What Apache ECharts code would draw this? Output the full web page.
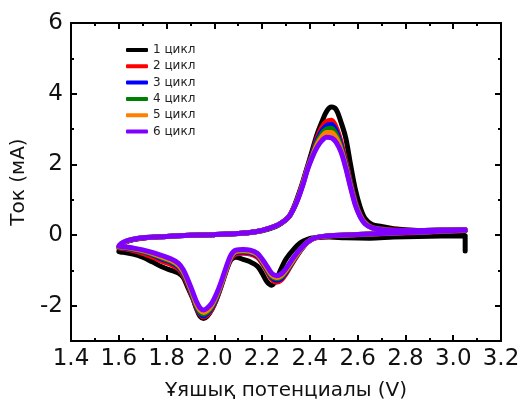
<!DOCTYPE html>
<html>
<head>
<meta charset="utf-8">
<style>
  html, body { margin: 0; padding: 0; background: #fff; }
  #chart { width: 526px; height: 406px; }
</style>
<script src="https://cdn.jsdelivr.net/npm/echarts@6/dist/echarts.min.js"></script>
</head>
<body>
<div id="chart"></div>
<script>
// Sweep potentials (V): cathodic scan 3.05 -> 1.60, then anodic scan back to 3.05
const cathodicV = [3.05, 2.95, 2.85, 2.75, 2.65, 2.55, 2.48, 2.42, 2.39, 2.36, 2.33, 2.30, 2.28, 2.26, 2.24, 2.22, 2.20, 2.18, 2.15, 2.12, 2.09, 2.07, 2.05, 2.03, 2.01, 1.99, 1.97, 1.955, 1.94, 1.925, 1.91, 1.89, 1.87, 1.85, 1.82, 1.78, 1.74, 1.70, 1.66, 1.62, 1.60];
const anodicV = [1.61, 1.63, 1.66, 1.70, 1.75, 1.80, 1.90, 2.00, 2.10, 2.15, 2.20, 2.25, 2.28, 2.31, 2.33, 2.35, 2.37, 2.39, 2.41, 2.43, 2.45, 2.47, 2.49, 2.51, 2.53, 2.55, 2.57, 2.59, 2.61, 2.63, 2.66, 2.70, 2.75, 2.85, 2.95, 3.05];

// Cycle 1 starts with a current step at the upper potential limit
const cycle1StartV = 3.05;
const cycle1StartI = -0.45;

// Current (mA), cathodic branch
const cycle1Cath = [-0.02, -0.03, -0.04, -0.06, -0.09, -0.08, -0.06, -0.08, -0.12, -0.22, -0.42, -0.68, -0.95, -1.25, -1.42, -1.32, -1.08, -0.88, -0.76, -0.69, -0.63, -0.7, -0.98, -1.4, -1.8, -2.1, -2.3, -2.36, -2.3, -2.08, -1.8, -1.5, -1.2, -1.08, -1.0, -0.9, -0.76, -0.63, -0.54, -0.49, -0.47];
const cycle2Cath = [0.13, 0.1, 0.07, 0.05, 0.02, -0.01, -0.03, -0.09, -0.21, -0.45, -0.76, -1.1, -1.28, -1.34, -1.25, -1.02, -0.8, -0.63, -0.54, -0.52, -0.54, -0.67, -1.02, -1.43, -1.8, -2.1, -2.27, -2.32, -2.25, -2.06, -1.78, -1.43, -1.14, -0.96, -0.84, -0.74, -0.62, -0.52, -0.44, -0.38, -0.36];
const cycle3Cath = [0.14, 0.11, 0.08, 0.06, 0.03, 0.0, -0.02, -0.08, -0.2, -0.44, -0.74, -1.06, -1.23, -1.28, -1.2, -0.98, -0.76, -0.59, -0.5, -0.48, -0.5, -0.64, -0.99, -1.4, -1.77, -2.06, -2.23, -2.29, -2.22, -2.03, -1.75, -1.39, -1.09, -0.91, -0.78, -0.68, -0.56, -0.47, -0.41, -0.36, -0.35];
const cycle4Cath = [0.14, 0.11, 0.08, 0.06, 0.03, 0.0, -0.02, -0.08, -0.2, -0.43, -0.72, -1.03, -1.19, -1.24, -1.17, -0.96, -0.74, -0.57, -0.48, -0.46, -0.48, -0.62, -0.97, -1.38, -1.74, -2.02, -2.19, -2.24, -2.18, -2.0, -1.72, -1.36, -1.06, -0.88, -0.75, -0.65, -0.54, -0.46, -0.4, -0.35, -0.34];
const cycle5Cath = [0.14, 0.11, 0.08, 0.06, 0.03, 0.0, -0.02, -0.08, -0.2, -0.42, -0.7, -1.0, -1.15, -1.2, -1.13, -0.93, -0.72, -0.55, -0.46, -0.44, -0.46, -0.6, -0.95, -1.35, -1.7, -1.98, -2.14, -2.19, -2.13, -1.95, -1.68, -1.33, -1.03, -0.85, -0.72, -0.62, -0.52, -0.44, -0.38, -0.34, -0.33];
const cycle6Cath = [0.14, 0.11, 0.08, 0.06, 0.03, 0.0, -0.02, -0.08, -0.2, -0.4, -0.65, -0.95, -1.1, -1.15, -1.08, -0.88, -0.68, -0.52, -0.43, -0.41, -0.43, -0.56, -0.9, -1.3, -1.65, -1.92, -2.07, -2.12, -2.06, -1.88, -1.62, -1.28, -0.98, -0.8, -0.68, -0.58, -0.49, -0.42, -0.37, -0.33, -0.32];

// Current (mA), anodic branch
const cycle1Anod = [-0.32, -0.2, -0.13, -0.09, -0.06, -0.04, -0.01, 0.01, 0.04, 0.07, 0.12, 0.22, 0.33, 0.5, 0.75, 1.1, 1.5, 1.95, 2.4, 2.85, 3.2, 3.5, 3.62, 3.55, 3.2, 2.75, 2.0, 1.3, 0.8, 0.48, 0.3, 0.24, 0.18, 0.13, 0.12, 0.12];
const cycle2Anod = [-0.27, -0.19, -0.13, -0.09, -0.06, -0.04, -0.01, 0.01, 0.04, 0.07, 0.13, 0.24, 0.34, 0.5, 0.73, 1.06, 1.46, 1.92, 2.3, 2.75, 3.05, 3.22, 3.25, 3.05, 2.65, 2.1, 1.5, 0.95, 0.58, 0.36, 0.22, 0.17, 0.14, 0.13, 0.13, 0.14];
const cycle3Anod = [-0.26, -0.19, -0.13, -0.08, -0.06, -0.04, -0.01, 0.01, 0.04, 0.07, 0.13, 0.24, 0.34, 0.5, 0.72, 1.05, 1.44, 1.9, 2.28, 2.68, 2.95, 3.1, 3.13, 2.95, 2.55, 2.02, 1.45, 0.92, 0.56, 0.35, 0.21, 0.16, 0.13, 0.13, 0.14, 0.15];
const cycle4Anod = [-0.26, -0.18, -0.12, -0.08, -0.06, -0.04, -0.01, 0.01, 0.04, 0.07, 0.13, 0.24, 0.34, 0.5, 0.72, 1.04, 1.43, 1.88, 2.25, 2.62, 2.87, 3.0, 3.02, 2.85, 2.48, 1.98, 1.42, 0.9, 0.55, 0.34, 0.21, 0.16, 0.13, 0.13, 0.14, 0.15];
const cycle5Anod = [-0.25, -0.18, -0.12, -0.08, -0.06, -0.04, -0.01, 0.01, 0.04, 0.07, 0.13, 0.24, 0.34, 0.5, 0.72, 1.03, 1.42, 1.87, 2.22, 2.56, 2.78, 2.9, 2.9, 2.75, 2.42, 1.94, 1.38, 0.88, 0.54, 0.33, 0.2, 0.15, 0.13, 0.13, 0.14, 0.15];
const cycle6Anod = [-0.24, -0.17, -0.12, -0.08, -0.06, -0.04, -0.01, 0.01, 0.04, 0.07, 0.13, 0.24, 0.34, 0.5, 0.72, 1.02, 1.4, 1.85, 2.2, 2.48, 2.67, 2.77, 2.75, 2.62, 2.35, 1.9, 1.35, 0.85, 0.52, 0.32, 0.2, 0.15, 0.13, 0.13, 0.14, 0.15];

const cycleNames = ['1 цикл', '2 цикл', '3 цикл', '4 цикл', '5 цикл', '6 цикл'];
const cycleColors = ['#000000', '#ff0000', '#0000ff', '#008000', '#ff8000', '#8000ff'];

const yMajorTicks = [-2, 0, 2, 4, 6];
const yMinorTicks = [-3, -1, 1, 3, 5];

function loop(cath, anod) {
  return cathodicV.map((v, k) => [v, cath[k]])
    .concat(anodicV.map((v, k) => [v, anod[k]]));
}

const cycles = [
  [[cycle1StartV, cycle1StartI]].concat(loop(cycle1Cath, cycle1Anod)),
  loop(cycle2Cath, cycle2Anod),
  loop(cycle3Cath, cycle3Anod),
  loop(cycle4Cath, cycle4Anod),
  loop(cycle5Cath, cycle5Anod),
  loop(cycle6Cath, cycle6Anod)
];

const FONT = 'DejaVu Sans';
const frame = { show: true, onZero: false, lineStyle: { color: '#000', width: 2 } };

function xAxisDef(pos, withLabels) {
  return {
    type: 'value', position: pos, min: 1.4, max: 3.2, interval: 0.2,
    name: withLabels ? 'Ұяшық потенциалы (V)' : '',
    nameLocation: 'middle', nameGap: 40,
    nameTextStyle: { fontFamily: FONT, fontSize: 20, color: '#111' },
    axisLine: frame,
    axisTick: { show: true, inside: true, length: 6, lineStyle: { color: '#000', width: 2 } },
    minorTick: { show: true, splitNumber: 2, length: 3, lineStyle: { color: '#000', width: 2 } },
    axisLabel: {
      show: withLabels, margin: 7, fontFamily: FONT, fontSize: 23, color: '#111',
      formatter: v => v.toFixed(1)
    },
    splitLine: { show: false }, minorSplitLine: { show: false }
  };
}

function yAxisDef(pos, withLabels, ticks, len) {
  return {
    type: 'value', position: pos, min: -3, max: 6, interval: 1,
    name: withLabels ? 'Ток (мА)' : '',
    nameLocation: 'middle', nameGap: 42,
    nameTextStyle: { fontFamily: FONT, fontSize: 20, color: '#111' },
    axisLine: frame,
    axisTick: { show: true, inside: true, length: len, customValues: ticks, lineStyle: { color: '#000', width: 2 } },
    axisLabel: {
      show: withLabels, margin: 8, fontFamily: FONT, fontSize: 23, color: '#111',
      customValues: yMajorTicks
    },
    splitLine: { show: false }
  };
}

const chart = echarts.init(document.getElementById('chart'), null, { renderer: 'canvas' });
chart.setOption({
  animation: false,
  backgroundColor: '#fff',
  grid: { left: 71, right: 25, top: 23, bottom: 65, containLabel: false },
  xAxis: [xAxisDef('bottom', true), xAxisDef('top', false)],
  yAxis: [
    yAxisDef('left', true, yMajorTicks, 6),
    yAxisDef('left', false, yMinorTicks, 3),
    yAxisDef('right', false, yMajorTicks, 6),
    yAxisDef('right', false, yMinorTicks, 3)
  ],
  legend: {
    orient: 'vertical', left: 126, top: 44, padding: 0,
    itemWidth: 22, itemHeight: 4, itemGap: 4.3,
    icon: 'roundRect',
    textStyle: { fontFamily: FONT, fontSize: 12, color: '#222' },
    data: cycleNames
  },
  series: cycles.map((pts, k) => ({
    name: cycleNames[k],
    type: 'line',
    xAxisIndex: 0, yAxisIndex: 0,
    data: pts,
    showSymbol: false,
    smooth: 0.35,
    color: cycleColors[k],
    lineStyle: { width: 5, color: cycleColors[k], cap: 'round', join: 'round' },
    z: 2 + k
  }))
});
</script>
</body>
</html>
